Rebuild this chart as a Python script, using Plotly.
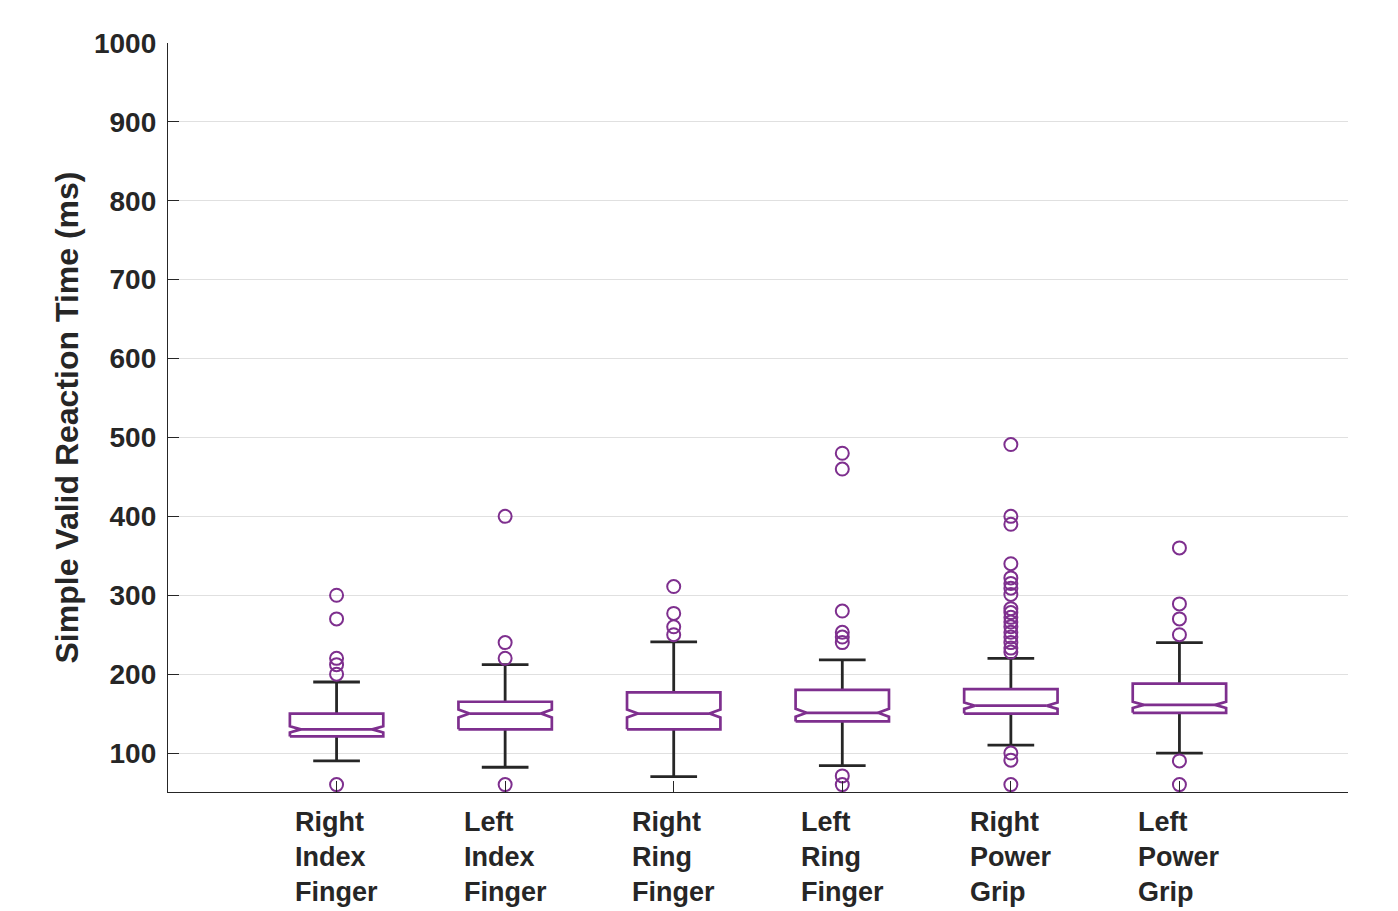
import plotly.graph_objects as go

# ---- data ----
categories = ["Right Index Finger", "Left Index Finger", "Right Ring Finger",
              "Left Ring Finger", "Right Power Grip", "Left Power Grip"]
positions = [1, 2, 3, 4, 5, 6]

q1 = [121, 130, 130, 140, 150, 151]
median = [130, 150, 150, 151, 160, 161]
q3 = [150, 165, 177, 180, 181, 188]
lower_whisker = [90, 82, 70, 84, 110, 100]
upper_whisker = [190, 212, 241, 218, 220, 240]
notch_half = [4, 5, 5, 5, 4, 4]

outliers = [
    [300, 270, 220, 212, 200, 60],
    [400, 240, 220, 60],
    [311, 277, 260, 250],
    [480, 460, 280, 253, 247, 240, 71, 60],
    [491, 400, 390, 340, 322, 315, 309, 301, 283, 278, 272, 266, 260, 253,
     247, 240, 233, 228, 100, 91, 60],
    [360, 289, 270, 250, 90, 60],
]

y_ticks = [100, 200, 300, 400, 500, 600, 700, 800, 900, 1000]

# ---- style ----
PURPLE = "#7E2F8E"
DARK = "#262626"
FONT = "Liberation Sans"
HW = 0.277          # box half width (x units)
ND = 0.065          # notch depth
CW = HW * 0.5       # whisker cap half width

fig = go.Figure()

# whiskers
wx, wy = [], []
for p, a, b, lo, hi in zip(positions, q1, q3, lower_whisker, upper_whisker):
    wx += [p, p, None, p, p, None, p - CW, p + CW, None, p - CW, p + CW, None]
    wy += [b, hi, None, a, lo, None, hi, hi, None, lo, lo, None]
fig.add_trace(go.Scatter(x=wx, y=wy, mode="lines",
                         line=dict(color=DARK, width=2.8),
                         hoverinfo="skip", showlegend=False))

# notched boxes
for p, a, m, b, n in zip(positions, q1, median, q3, notch_half):
    bx = [p - HW, p - HW, p - HW + ND, p - HW, p - HW, p + HW, p + HW,
          p + HW - ND, p + HW, p + HW, p - HW]
    by = [a, m - n, m, m + n, b, b, m + n, m, m - n, a, a]
    fig.add_trace(go.Scatter(x=bx, y=by, mode="lines",
                             line=dict(color=PURPLE, width=2.7),
                             fill="toself", fillcolor="white",
                             hoverinfo="skip", showlegend=False))
    fig.add_trace(go.Scatter(x=[p - HW + ND, p + HW - ND], y=[m, m],
                             mode="lines", line=dict(color=PURPLE, width=2.7),
                             hoverinfo="skip", showlegend=False))

# outliers
ox, oy = [], []
for p, vals in zip(positions, outliers):
    ox += [p] * len(vals)
    oy += vals
fig.add_trace(go.Scatter(x=ox, y=oy, mode="markers",
                         marker=dict(symbol="circle-open", size=13,
                                     color=PURPLE, line=dict(width=2)),
                         showlegend=False))

# category labels (left-aligned multi-line blocks)
for p, c in zip(positions, categories):
    fig.add_annotation(x=p, y=0, xref="x", yref="paper",
                       text="<br>".join(c.split(" ")),
                       showarrow=False, xanchor="center", yanchor="top",
                       align="left", yshift=-13,
                       font=dict(family=FONT, size=27, color=DARK,
                                 weight="bold"))

fig.update_layout(
    width=1382, height=903,
    margin=dict(l=160, r=42, t=35, b=119),
    plot_bgcolor="white", paper_bgcolor="white",
    font=dict(family=FONT, color=DARK),
)
fig.update_xaxes(range=[0, 7], tickvals=positions, ticktext=[""] * 6,
                 ticks="inside", ticklen=11, tickcolor=DARK, tickwidth=1,
                 showline=True, linecolor=DARK, linewidth=1.3,
                 showgrid=False, zeroline=False)
fig.update_yaxes(range=[50.6, 1000], tickvals=y_ticks,
                 ticks="inside", ticklen=11, tickcolor=DARK, tickwidth=1,
                 showline=True, linecolor=DARK, linewidth=1.3,
                 showgrid=True, gridcolor="#e0e0e0", gridwidth=1,
                 zeroline=False, ticklabelstandoff=5,
                 tickfont=dict(family=FONT, size=28, color=DARK, weight="bold"),
                 title=dict(text="Simple Valid Reaction Time (ms)", standoff=5,
                            font=dict(family=FONT, size=32, color=DARK,
                                      weight="bold")))

fig.write_html("out.html")
